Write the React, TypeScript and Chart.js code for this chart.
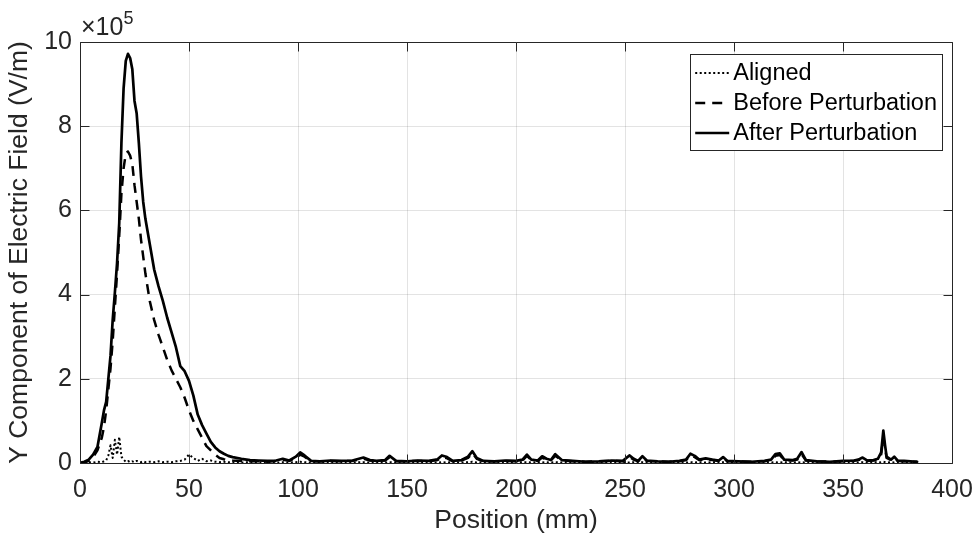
import { useEffect, useRef } from "react";
import { Chart, registerables } from "chart.js";

Chart.register(...registerables);

// Sample positions along the line (mm)
const positionMm = [
  0, 2, 4, 6, 8, 10, 11, 12, 13, 14, 15, 16, 17, 18, 19, 20, 21, 22, 23, 24,
  25, 26, 27, 28, 29, 30, 32, 34, 36, 38, 40, 42, 44, 46, 48, 50, 52, 54, 56, 58,
  60, 62, 64, 66, 68, 70, 74, 78, 82, 86, 90, 93, 96, 99, 101, 103, 106, 110, 115, 120,
  125, 130, 133, 136, 140, 142, 145, 150, 155, 160, 164, 166, 168, 171, 175, 178, 180, 182, 185, 190,
  195, 200, 203, 205, 207, 210, 212, 214, 216, 218, 221, 226, 232, 238, 244, 249, 252, 254, 256, 258,
  260, 265, 270, 275, 278, 280, 282, 284, 287, 290, 293, 295, 297, 302, 308, 314, 317, 319, 321, 323,
  327, 329, 331, 333, 338, 344, 350, 355, 357, 359, 361, 364, 366, 367.5, 368.5, 369.3, 370, 372, 373.5, 375,
  378, 381, 384,
];

// Y component of the electric field, in units of 1e5 V/m
const alignedField = [
  0.0, 0.01, 0.02, 0.01, 0.03, 0.02, 0.04, 0.06, 0.18, 0.42, 0.12, 0.55, 0.2, 0.62, 0.15, 0.08, 0.03, 0.05, 0.02, 0.04,
  0.02, 0.05, 0.03, 0.02, 0.04, 0.02, 0.03, 0.02, 0.04, 0.02, 0.03, 0.02, 0.04, 0.05, 0.08, 0.2, 0.12, 0.05, 0.1, 0.04,
  0.06, 0.03, 0.02, 0.03, 0.02, 0.02, 0.01, 0.02, 0.01, 0.02, 0.01, 0.02, 0.01, 0.02, 0.03, 0.02, 0.01, 0.02, 0.01, 0.02,
  0.01, 0.02, 0.01, 0.02, 0.01, 0.02, 0.01, 0.02, 0.01, 0.02, 0.01, 0.02, 0.01, 0.02, 0.01, 0.02, 0.03, 0.01, 0.02, 0.01,
  0.02, 0.01, 0.02, 0.02, 0.01, 0.02, 0.01, 0.02, 0.01, 0.02, 0.01, 0.02, 0.01, 0.02, 0.01, 0.02, 0.01, 0.02, 0.01, 0.02,
  0.01, 0.02, 0.01, 0.02, 0.01, 0.02, 0.01, 0.02, 0.01, 0.02, 0.01, 0.02, 0.01, 0.02, 0.01, 0.02, 0.01, 0.02, 0.01, 0.02,
  0.01, 0.02, 0.01, 0.02, 0.01, 0.02, 0.01, 0.02, 0.01, 0.02, 0.01, 0.02, 0.01, 0.02, 0.03, 0.02, 0.01, 0.02, 0.01, 0.02,
  0.01, 0.02, 0.01,
];

const beforeField = [
  0.0, 0.01, 0.05, 0.14, 0.3, 0.6, 0.85, 1.25, 1.75, 2.25, 2.9, 3.7, 4.5, 5.4, 6.4, 7.0, 7.35, 7.4, 7.3, 7.1,
  6.6, 6.2, 5.8, 5.3, 4.9, 4.5, 3.85, 3.4, 3.05, 2.75, 2.45, 2.2, 2.0, 1.8, 1.55, 1.25, 1.0, 0.8, 0.6, 0.4,
  0.3, 0.2, 0.12, 0.09, 0.07, 0.06, 0.05, 0.04, 0.04, 0.03, 0.05, 0.08, 0.05, 0.12, 0.2, 0.15, 0.04, 0.04, 0.05, 0.04,
  0.05, 0.1, 0.06, 0.05, 0.06, 0.14, 0.04, 0.04, 0.05, 0.04, 0.07, 0.14, 0.12, 0.04, 0.06, 0.12, 0.24, 0.1, 0.04, 0.04,
  0.05, 0.04, 0.06, 0.17, 0.07, 0.05, 0.13, 0.08, 0.06, 0.17, 0.06, 0.04, 0.03, 0.04, 0.05, 0.04, 0.15, 0.08, 0.04, 0.13,
  0.05, 0.04, 0.03, 0.04, 0.07, 0.18, 0.14, 0.07, 0.09, 0.07, 0.05, 0.11, 0.04, 0.04, 0.03, 0.04, 0.07, 0.17, 0.19, 0.07,
  0.06, 0.08, 0.21, 0.06, 0.04, 0.03, 0.04, 0.05, 0.07, 0.1, 0.05, 0.06, 0.08, 0.2, 0.62, 0.36, 0.12, 0.07, 0.12, 0.05,
  0.04, 0.03, 0.03,
];

const afterField = [
  0.0, 0.03, 0.08, 0.2, 0.38, 0.95, 1.25, 1.45, 2.0, 2.55, 3.4, 4.05, 4.75, 5.7, 7.6, 8.9, 9.55, 9.72, 9.62, 9.35,
  8.6, 8.3, 7.6, 6.8, 6.2, 5.8, 5.2, 4.6, 4.2, 3.85, 3.45, 3.1, 2.75, 2.3, 2.18, 1.95, 1.6, 1.15, 0.9, 0.7,
  0.5, 0.37, 0.28, 0.22, 0.17, 0.14, 0.1, 0.07, 0.06, 0.05, 0.06, 0.1, 0.06, 0.15, 0.25, 0.18, 0.05, 0.04, 0.06, 0.05,
  0.06, 0.13, 0.07, 0.05, 0.07, 0.17, 0.05, 0.04, 0.06, 0.05, 0.09, 0.18, 0.15, 0.05, 0.07, 0.15, 0.28, 0.12, 0.05, 0.04,
  0.06, 0.05, 0.08, 0.2, 0.08, 0.06, 0.16, 0.1, 0.07, 0.21, 0.07, 0.05, 0.03, 0.04, 0.06, 0.05, 0.18, 0.1, 0.05, 0.16,
  0.06, 0.04, 0.03, 0.05, 0.08, 0.22, 0.17, 0.08, 0.11, 0.08, 0.06, 0.14, 0.05, 0.04, 0.03, 0.05, 0.08, 0.21, 0.23, 0.08,
  0.07, 0.1, 0.26, 0.07, 0.04, 0.03, 0.05, 0.06, 0.08, 0.13, 0.06, 0.07, 0.1, 0.25, 0.77, 0.42, 0.15, 0.08, 0.15, 0.06,
  0.05, 0.04, 0.03,
];

const seriesLabels = ["Aligned", "Before Perturbation", "After Perturbation"];
const xTickValues = [0, 50, 100, 150, 200, 250, 300, 350, 400];
const yTickValues = [0, 2, 4, 6, 8, 10];
const yExponent = "5";

const FONT = "'Liberation Sans', Arial, Helvetica, sans-serif";
const AXIS_COLOR = "#262626";
const GRID_COLOR = "rgba(38,38,38,0.13)";
const TICK_LEN = 9;

const toPoints = (ys: number[]) => positionMm.map((x, i) => ({ x, y: ys[i] }));

// Box around the plot area with inward tick marks on all four sides
const framePlugin = {
  id: "frame",
  afterDatasetsDraw(chart: any) {
    const { ctx, chartArea: a, scales } = chart;
    const l = Math.round(a.left) + 0.5;
    const r = Math.round(a.right) + 0.5;
    const t = Math.round(a.top) + 0.5;
    const b = Math.round(a.bottom) + 0.5;
    ctx.save();
    ctx.strokeStyle = AXIS_COLOR;
    ctx.lineWidth = 1;
    ctx.beginPath();
    ctx.rect(l, t, r - l, b - t);
    for (const v of xTickValues) {
      const px = Math.round(scales.x.getPixelForValue(v)) + 0.5;
      ctx.moveTo(px, b);
      ctx.lineTo(px, b - TICK_LEN);
      ctx.moveTo(px, t);
      ctx.lineTo(px, t + TICK_LEN);
    }
    for (const v of yTickValues) {
      const py = Math.round(scales.y.getPixelForValue(v)) + 0.5;
      ctx.moveTo(l, py);
      ctx.lineTo(l + TICK_LEN, py);
      ctx.moveTo(r, py);
      ctx.lineTo(r - TICK_LEN, py);
    }
    ctx.stroke();
    ctx.restore();
  },
};

// Exponent multiplier above the y axis
const exponentPlugin = {
  id: "exponent",
  afterDraw(chart: any) {
    const { ctx, chartArea: a } = chart;
    ctx.save();
    ctx.fillStyle = AXIS_COLOR;
    ctx.textBaseline = "alphabetic";
    ctx.textAlign = "left";
    ctx.font = `25px ${FONT}`;
    const base = "\u00d710";
    const x0 = a.left + 1;
    ctx.fillText(base, x0, a.top - 7);
    const w = ctx.measureText(base).width;
    ctx.font = `18px ${FONT}`;
    ctx.fillText(yExponent, x0 + w, a.top - 18);
    ctx.restore();
  },
};

// Legend box in the upper right corner of the plot area
const legendPlugin = {
  id: "boxLegend",
  afterDraw(chart: any) {
    const { ctx, chartArea: a } = chart;
    const datasets = chart.data.datasets;
    ctx.save();
    ctx.font = `23.5px ${FONT}`;
    const textW = Math.max(...datasets.map((d: any) => ctx.measureText(d.label).width));
    const sample = 34;
    const padL = 5;
    const gap = 4;
    const padR = 5;
    const rowH = 30;
    const boxW = padL + sample + gap + textW + padR;
    const boxH = rowH * datasets.length + 6;
    const right = Math.round(a.right) - 10;
    const top = Math.round(a.top) + 12;
    const left = right - boxW;
    ctx.fillStyle = "#ffffff";
    ctx.fillRect(left, top, boxW, boxH);
    ctx.strokeStyle = AXIS_COLOR;
    ctx.lineWidth = 1;
    ctx.strokeRect(Math.round(left) + 0.5, top + 0.5, Math.round(boxW), Math.round(boxH));
    datasets.forEach((d: any, i: number) => {
      const cy = top + 4 + rowH * (i + 0.5);
      ctx.strokeStyle = d.borderColor;
      ctx.lineWidth = d.borderWidth;
      ctx.setLineDash(d.borderDash || []);
      ctx.beginPath();
      ctx.moveTo(left + padL, cy);
      ctx.lineTo(left + padL + sample, cy);
      ctx.stroke();
      ctx.setLineDash([]);
      ctx.fillStyle = "#000000";
      ctx.textBaseline = "middle";
      ctx.textAlign = "left";
      ctx.fillText(d.label, left + padL + sample + gap, cy + 1);
    });
    ctx.restore();
  },
};

export default function App() {
  const canvasRef = useRef<HTMLCanvasElement | null>(null);

  useEffect(() => {
    if (!canvasRef.current) return;
    const chart = new Chart(canvasRef.current, {
      type: "line",
      data: {
        datasets: [
          {
            label: seriesLabels[0],
            data: toPoints(alignedField),
            borderColor: "#000000",
            borderWidth: 2,
            borderDash: [2, 2.5],
            borderJoinStyle: "round",
            pointRadius: 0,
            tension: 0,
            order: 2,
          },
          {
            label: seriesLabels[1],
            data: toPoints(beforeField),
            borderColor: "#000000",
            borderWidth: 2.5,
            borderDash: [10, 7],
            borderJoinStyle: "round",
            pointRadius: 0,
            tension: 0,
            order: 1,
          },
          {
            label: seriesLabels[2],
            data: toPoints(afterField),
            borderColor: "#000000",
            borderWidth: 2.7,
            borderJoinStyle: "round",
            borderCapStyle: "round",
            pointRadius: 0,
            tension: 0,
            order: 0,
          },
        ],
      },
      options: {
        animation: false,
        responsive: true,
        maintainAspectRatio: false,
        layout: { padding: { top: 42, right: 26, left: 0, bottom: 0 } },
        plugins: {
          legend: { display: false },
          tooltip: { enabled: false },
        },
        scales: {
          x: {
            type: "linear",
            min: 0,
            max: 400,
            afterFit: (s: any) => {
              s.height = 77;
              s.paddingLeft = 0;
              s.paddingRight = 0;
            },
            afterBuildTicks: (s: any) => {
              s.ticks = xTickValues.map((value) => ({ value }));
            },
            ticks: {
              font: { family: FONT, size: 25 },
              color: AXIS_COLOR,
              padding: 12,
              maxRotation: 0,
              autoSkip: false,
            },
            grid: { color: GRID_COLOR, drawTicks: false },
            border: { display: false },
            title: {
              display: true,
              text: "Position (mm)",
              font: { family: FONT, size: 26.5 },
              color: AXIS_COLOR,
              padding: { top: 0, bottom: 3 },
            },
          },
          y: {
            type: "linear",
            min: 0,
            max: 10,
            afterFit: (s: any) => {
              s.width = 80;
              s.paddingTop = 0;
              s.paddingBottom = 0;
            },
            afterBuildTicks: (s: any) => {
              s.ticks = yTickValues.map((value) => ({ value }));
            },
            ticks: {
              font: { family: FONT, size: 25 },
              color: AXIS_COLOR,
              padding: 8,
              autoSkip: false,
            },
            grid: { color: GRID_COLOR, drawTicks: false },
            border: { display: false },
            title: {
              display: true,
              text: "Y Component of Electric Field (V/m)",
              font: { family: FONT, size: 26.5 },
              color: AXIS_COLOR,
              padding: { top: 4, bottom: 0 },
            },
          },
        },
      },
      plugins: [framePlugin, exponentPlugin, legendPlugin],
    });
    return () => chart.destroy();
  }, []);

  return (
    <div style={{ position: "fixed", left: 0, top: 0, width: 978, height: 540, background: "#fff" }}>
      <canvas ref={canvasRef} />
    </div>
  );
}
